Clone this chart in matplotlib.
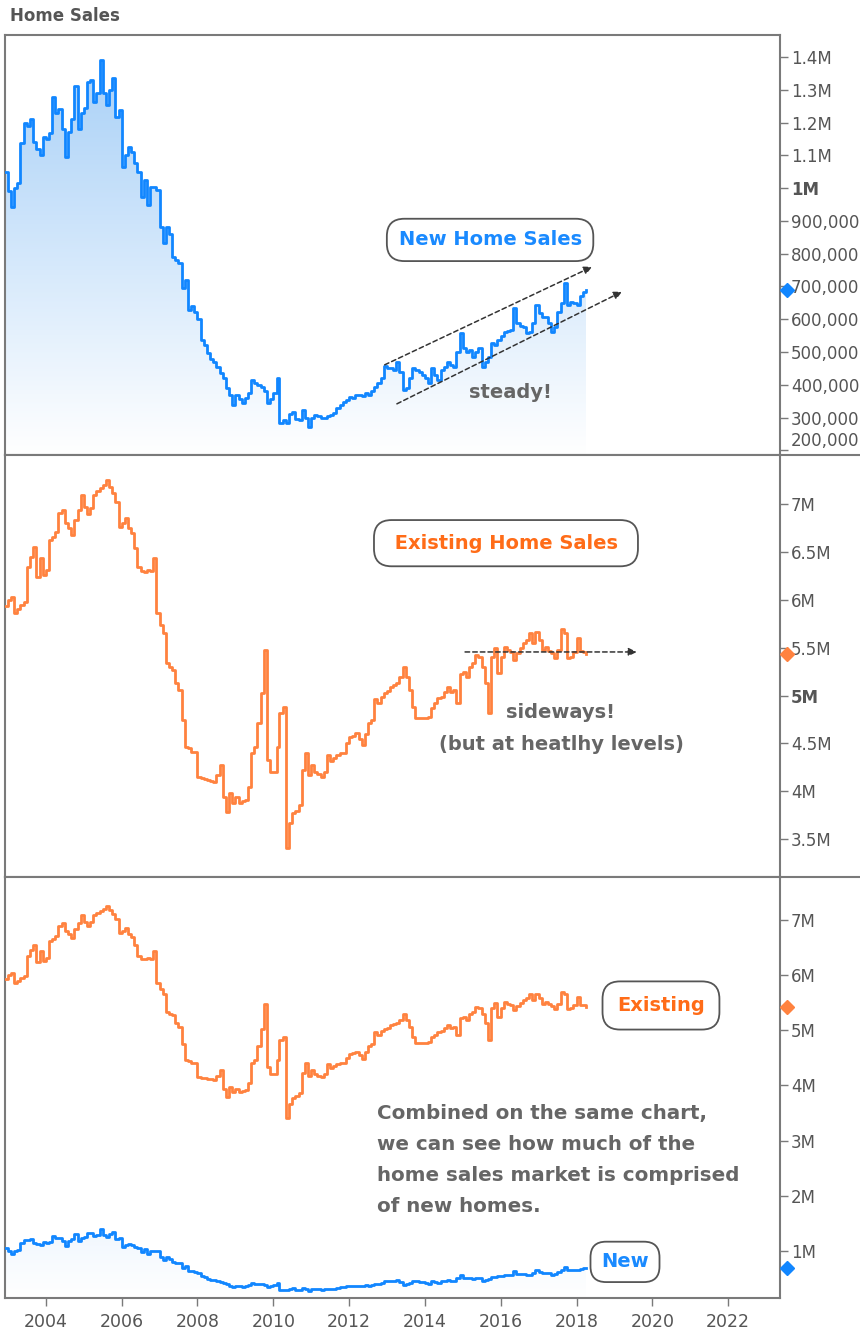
import numpy as np
import pandas as pd
import matplotlib
matplotlib.use('Agg')
import matplotlib.pyplot as plt
import matplotlib.dates as mdates
import matplotlib.transforms as mtransforms
from matplotlib.colors import to_rgb
from matplotlib.lines import Line2D

plt.rcParams['font.family'] = ['DejaVu Sans']

# monthly values, Dec 2002 .. Apr 2018
new_sales = np.array([
    1049, 990, 943, 1000, 1016, 1138, 1200, 1190, 1210, 1140, 1120, 1100,
    1156, 1150, 1168, 1278, 1230, 1240, 1180, 1095, 1170, 1210, 1310, 1180,
    1230, 1245, 1325, 1330, 1263, 1290, 1390, 1290, 1254, 1300, 1336, 1217,
    1238, 1065, 1100, 1126, 1110, 1077, 1050, 973, 1025, 949, 1004, 1004,
    995, 882, 833, 882, 860, 790, 780, 772, 696, 720, 629, 640,
    623, 600, 537, 520, 497, 480, 470, 455, 437, 420, 391, 370,
    339, 370, 356, 345, 360, 376, 415, 405, 400, 394, 380, 345,
    356, 376, 421, 284, 293, 285, 310, 318, 295, 293, 324, 300,
    272, 300, 309, 305, 298, 300, 305, 309, 315, 330, 340, 348,
    355, 364, 360, 368, 370, 365, 375, 370, 380, 394, 406, 420,
    458, 452, 452, 446, 470, 440, 385, 391, 420, 452, 445, 440,
    430, 420, 406, 452, 430, 415, 446, 455, 470, 460, 455, 500,
    558, 512, 500, 507, 485, 500, 512, 455, 470, 485, 528, 520,
    537, 550, 562, 565, 568, 635, 589, 580, 577, 558, 562, 590,
    644, 620, 607, 607, 590, 562, 577, 622, 650, 711, 644, 653,
    650, 645, 670, 684, 690]) * 1e3

existing_sales = np.array([
    5.93, 6.00, 6.03, 5.86, 5.90, 5.95, 5.98, 6.34, 6.45, 6.55, 6.24, 6.44,
    6.26, 6.31, 6.62, 6.65, 6.71, 6.90, 6.94, 6.80, 6.75, 6.68, 6.83, 6.94,
    7.09, 6.97, 6.89, 6.96, 7.09, 7.13, 7.17, 7.20, 7.25, 7.18, 7.11, 7.02,
    6.76, 6.80, 6.85, 6.75, 6.70, 6.54, 6.34, 6.30, 6.29, 6.31, 6.30, 6.44,
    5.86, 5.74, 5.65, 5.34, 5.30, 5.27, 5.13, 5.06, 4.75, 4.46, 4.45, 4.41,
    4.41, 4.15, 4.14, 4.13, 4.12, 4.11, 4.10, 4.17, 4.28, 3.94, 3.79, 3.98,
    3.88, 3.94, 3.88, 3.90, 3.91, 4.05, 4.40, 4.46, 4.71, 5.03, 5.48, 4.33,
    4.20, 4.20, 4.46, 4.82, 4.88, 3.41, 3.67, 3.77, 3.80, 3.86, 4.22, 4.40,
    4.17, 4.28, 4.20, 4.18, 4.15, 4.20, 4.38, 4.32, 4.35, 4.38, 4.40, 4.40,
    4.50, 4.57, 4.58, 4.61, 4.55, 4.48, 4.60, 4.71, 4.75, 4.96, 4.92, 4.98,
    5.03, 5.05, 5.09, 5.11, 5.13, 5.19, 5.30, 5.19, 5.06, 4.88, 4.77, 4.77,
    4.77, 4.77, 4.78, 4.87, 4.92, 4.97, 4.99, 5.04, 5.09, 5.04, 5.06, 4.92,
    5.22, 5.25, 5.19, 5.30, 5.34, 5.42, 5.40, 5.30, 5.13, 4.82, 5.40, 5.50,
    5.24, 5.40, 5.51, 5.48, 5.45, 5.37, 5.44, 5.50, 5.55, 5.58, 5.65, 5.55,
    5.66, 5.58, 5.48, 5.51, 5.47, 5.44, 5.39, 5.48, 5.69, 5.65, 5.39, 5.40,
    5.45, 5.60, 5.46, 5.45, 5.43]) * 1e6

months = pd.date_range('2002-12-01', periods=len(new_sales), freq='MS')

top_ticks = [1.4e6, 1.3e6, 1.2e6, 1.1e6, 1e6, 9e5, 8e5, 7e5, 6e5, 5e5, 4e5, 3e5, 2e5]
top_labels = ['1.4M', '1.3M', '1.2M', '1.1M', '1M', '900,000', '800,000', '700,000',
              '600,000', '500,000', '400,000', '300,000', '200,000']
mid_ticks = [7e6, 6.5e6, 6e6, 5.5e6, 5e6, 4.5e6, 4e6, 3.5e6]
mid_labels = ['7M', '6.5M', '6M', '5.5M', '5M', '4.5M', '4M', '3.5M']
bot_ticks = [7e6, 6e6, 5e6, 4e6, 3e6, 2e6, 1e6]
bot_labels = ['7M', '6M', '5M', '4M', '3M', '2M', '1M']

BLUE = '#1186ff'
ORANGE = '#ff823f'
BLUE_TXT = '#1a8aff'
ORANGE_TXT = '#ff6c18'
GRAY = '#555555'
NOTE = '#666666'
FRAME = '#7a7a7a'

W, H = 860, 1334
fig = plt.figure(figsize=(W / 100, H / 100), dpi=100)


def px_axes(top, bottom):
    return fig.add_axes([5 / W, 1 - bottom / H, 775 / W, (bottom - top) / H])


def yr(y):
    # decimal year -> matplotlib date number
    return mdates.date2num(pd.Timestamp(int(y), 1, 1)) + (y % 1) * 365.25


def gradient_fill(ax, x, y, ylim, color):
    r, g, b = to_rgb(color)
    f = np.linspace(0, 1, 256)[:, None]
    grad = np.ones((256, 1, 3))
    grad[:, :, 0] = 1 - f * (1 - r)
    grad[:, :, 1] = 1 - f * (1 - g)
    grad[:, :, 2] = 1 - f * (1 - b)
    poly = ax.fill_between(x, y, ylim[0], step='post', facecolor='none', edgecolor='none')
    x0, x1 = mdates.date2num(x[0]), mdates.date2num(x[-1])
    img = ax.imshow(grad, extent=[x0, x1, ylim[0], ylim[1]], origin='lower',
                    aspect='auto', zorder=1, interpolation='bilinear')
    img.set_clip_path(poly.get_paths()[0], transform=ax.transData)


ax1 = px_axes(35, 455)
ax2 = px_axes(455, 877)
ax3 = px_axes(877, 1298)

xlim = (yr(2002.92), yr(2023.37))
ylims = {ax1: (186e3, 1.467e6), ax2: (3.107e6, 7.51e6), ax3: (0.145e6, 7.78e6)}
LW = 2.0

# top: new home sales
ax1.plot(months, new_sales, drawstyle='steps-post', color=BLUE, lw=LW, zorder=3)
gradient_fill(ax1, months, new_sales, ylims[ax1], '#a4cef7')

# middle: existing home sales
ax2.plot(months, existing_sales, drawstyle='steps-post', color=ORANGE, lw=LW, zorder=3)

# bottom: both
ax3.plot(months, existing_sales, drawstyle='steps-post', color=ORANGE, lw=LW, zorder=3)
ax3.plot(months, new_sales, drawstyle='steps-post', color=BLUE, lw=LW, zorder=3)
gradient_fill(ax3, months, new_sales, ylims[ax3], '#a4cef7')

for ax, ticks, labels, bold in ((ax1, top_ticks, top_labels, '1M'),
                                (ax2, mid_ticks, mid_labels, '5M'),
                                (ax3, bot_ticks, bot_labels, None)):
    ax.set_xlim(xlim)
    ax.set_ylim(ylims[ax])
    ax.yaxis.tick_right()
    ax.set_yticks(ticks, labels)
    ax.tick_params(axis='y', direction='out', length=6, width=1, color=FRAME,
                   labelcolor=GRAY, labelsize=12, pad=2)
    ax.tick_params(axis='x', bottom=False, labelbottom=False)
    for s in ax.spines.values():
        s.set_color(FRAME)
        s.set_linewidth(1.5)
    for lbl in ax.get_yticklabels():
        if lbl.get_text() == bold:
            lbl.set_fontweight('bold')
        if lbl.get_text() == '200,000':
            lbl.set_va('bottom')

ax3.xaxis.set_major_locator(mdates.YearLocator(2))
ax3.xaxis.set_major_formatter(mdates.DateFormatter('%Y'))
ax3.tick_params(axis='x', bottom=True, labelbottom=True, direction='out', length=6,
                width=1, color=FRAME, labelcolor=GRAY, labelsize=12.5, pad=5)

# last-value markers on the right axis
for ax, vals, col in ((ax1, new_sales, BLUE), (ax2, existing_sales, ORANGE),
                      (ax3, existing_sales, ORANGE), (ax3, new_sales, BLUE)):
    tr = mtransforms.blended_transform_factory(ax.transAxes, ax.transData)
    ax.plot([1.009], [vals[-1]], marker='D', ms=7, color=col, transform=tr,
            clip_on=False, zorder=5)

# dividers run into the label margin
for ypx in (455, 877):
    fig.add_artist(Line2D([780 / W, 1], [1 - ypx / H] * 2, color=FRAME, lw=1.5,
                          transform=fig.transFigure))

fig.text(10 / W, 1 - 16 / H, 'Home Sales', fontsize=12, fontweight='bold',
         color=GRAY, va='center', ha='left')

arrow = dict(arrowstyle='-|>', linestyle=(0, (3, 2)), color='#333333', lw=1.1,
             mutation_scale=12, shrinkA=0, shrinkB=0)

ax1.text(yr(2015.72), 842e3, 'New Home Sales', fontsize=14, fontweight='bold',
         color=BLUE_TXT, ha='center', va='center', zorder=6,
         bbox=dict(boxstyle='round,pad=0.6,rounding_size=0.9', fc='white', ec=GRAY, lw=1.3))
ax1.annotate('', xy=(yr(2018.41), 760e3), xytext=(yr(2012.94), 461e3), arrowprops=arrow, zorder=4)
ax1.annotate('', xy=(yr(2019.20), 684e3), xytext=(yr(2013.26), 342e3), arrowprops=arrow, zorder=4)
ax1.text(yr(2016.27), 376e3, 'steady!', fontsize=14, fontweight='bold', color=NOTE,
         ha='center', va='center', zorder=6)

ax2.text(yr(2016.14), 6.59e6, ' Existing Home Sales ', fontsize=14, fontweight='bold',
         color=ORANGE_TXT, ha='center', va='center', zorder=6,
         bbox=dict(boxstyle='round,pad=0.7,rounding_size=0.9', fc='white', ec=GRAY, lw=1.3))
ax2.annotate('', xy=(yr(2019.59), 5.455e6), xytext=(yr(2015.06), 5.455e6), arrowprops=arrow, zorder=4)
ax2.text(yr(2017.59), 4.66e6, 'sideways!\n(but at heatlhy levels)', fontsize=14,
         fontweight='bold', color=NOTE, ha='center', va='center', linespacing=1.85, zorder=6)

ax3.text(yr(2020.23), 5.45e6, 'Existing', fontsize=14, fontweight='bold',
         color=ORANGE_TXT, ha='center', va='center', zorder=6,
         bbox=dict(boxstyle='round,pad=0.75,rounding_size=0.9', fc='white', ec=GRAY, lw=1.3))
ax3.text(yr(2019.28), 0.8e6, 'New', fontsize=14, fontweight='bold',
         color=BLUE_TXT, ha='center', va='center', zorder=6,
         bbox=dict(boxstyle='round,pad=0.55,rounding_size=0.8', fc='white', ec=GRAY, lw=1.3))
ax3.text(yr(2012.73), 2.645e6,
         'Combined on the same chart,\nwe can see how much of the\n'
         'home sales market is comprised\nof new homes.',
         fontsize=14.3, fontweight='bold', color=NOTE, ha='left', va='center',
         linespacing=1.8, zorder=6)

fig.savefig('out.png', dpi=100)
